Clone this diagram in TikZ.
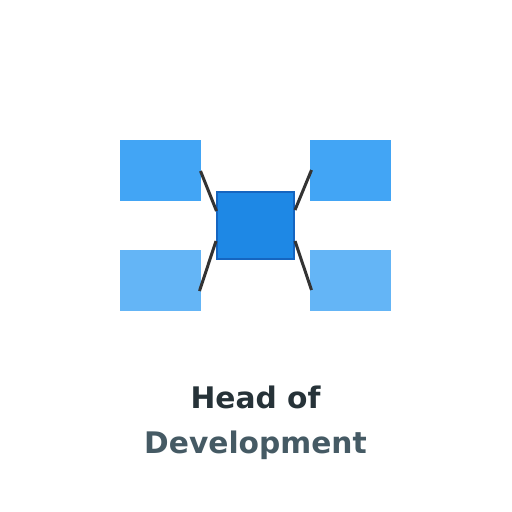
\documentclass[tikz,border=0pt]{standalone}
\usepackage{fontspec}
\setmainfont{DejaVu Sans}
\definecolor{topc}{HTML}{42A5F5}
\definecolor{botc}{HTML}{64B5F6}
\definecolor{midc}{HTML}{1E88E5}
\definecolor{midb}{HTML}{1565C0}
\definecolor{linec}{HTML}{333333}
\definecolor{t1}{HTML}{263238}
\definecolor{t2}{HTML}{455A64}
\begin{document}
\begin{tikzpicture}[x=1pt,y=-1pt,
  tbox/.style={fill=topc,draw=none,minimum width=81pt,minimum height=61pt,inner sep=0pt},
  bbox/.style={fill=botc,draw=none,minimum width=81pt,minimum height=61pt,inner sep=0pt},
  link/.style={draw=linec,line width=3pt},
  lbl/.style={font=\fontsize{29.7}{36}\selectfont\bfseries,anchor=base}]
\useasboundingbox (0,0) rectangle (512,512);
\fill[white] (0,0) rectangle (512,512);
\node[tbox] (tl) at (160.5,170.5) {};
\node[tbox] (tr) at (350.5,170.5) {};
\node[bbox] (bl) at (160.5,280.5) {};
\node[bbox] (br) at (350.5,280.5) {};
\node[fill=midc,draw=midb,line width=2pt,minimum width=77pt,minimum height=67pt,inner sep=0pt] (c) at (255,225) {};
\coordinate (a1) at (200.5,171);
\coordinate (a2) at (216.5,211);
\coordinate (b1) at (311.5,170);
\coordinate (b2) at (295,210);
\coordinate (c1) at (216,241);
\coordinate (c2) at (199.5,291);
\coordinate (d1) at (295,241);
\coordinate (d2) at (311.5,290);
\draw[link] (a1) -- (a2);
\draw[link] (b1) -- (b2);
\draw[link] (c1) -- (c2);
\draw[link] (d1) -- (d2);
\node[lbl,text=t1] (h) at (255.5,408) {Head of};
\node[lbl,text=t2] (d) at (255.5,453) {Development};
\end{tikzpicture}
\end{document}
